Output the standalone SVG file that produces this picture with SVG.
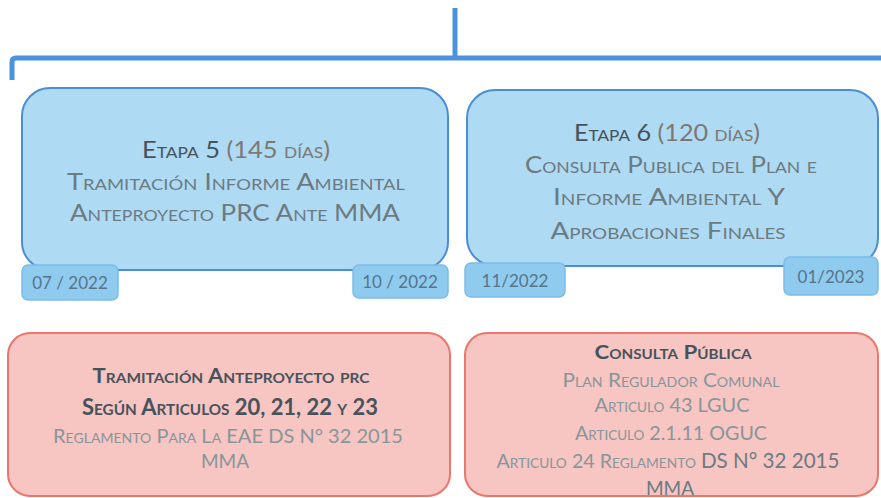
<svg xmlns="http://www.w3.org/2000/svg" width="881" height="498" viewBox="0 0 881 498">
<style>
text{font-family:Lato,"Open Sans","Liberation Sans",sans-serif;font-variant:small-caps;text-anchor:middle}
.blue{fill:#aedaf4;stroke:#4a8fd6;stroke-width:2}
.tab{fill:#8fcbef;stroke:#7cbce8;stroke-width:1.5}
.red{fill:#f7c5c2;stroke:#ea766c;stroke-width:2}
.dk{fill:#47535c}
.md{fill:#6c7a82}
.lt{fill:#88959a}
.br{fill:#7d7872}
.t{font-size:23.5px}
.d{font-size:17px;fill:#587488}
.conn{fill:none;stroke:#4b92de;stroke-width:5;stroke-linejoin:round}
</style>
<g id="connectors">
<path class="conn" d="M12 80 V62 Q12 58 16 58 H881"/>
<path class="conn" d="M455 8 V58"/>
</g>
<g id="etapa5">
<rect class="blue" x="22" y="88" width="426" height="182" rx="28"/>
<text class="t" x="236" y="158" textLength="188" lengthAdjust="spacingAndGlyphs"><tspan class="dk">Etapa 5</tspan> <tspan class="br">(145 días)</tspan></text>
<text class="t md" x="236" y="190" textLength="338" lengthAdjust="spacingAndGlyphs">Tramitación Informe Ambiental</text>
<text class="t md" x="235" y="221" textLength="330" lengthAdjust="spacingAndGlyphs">Anteproyecto  PRC Ante MMA</text>
</g>
<g id="tab-0722">
<rect class="tab" x="22" y="265" width="96" height="35" rx="6"/>
<text class="d" x="70" y="289">07 / 2022</text>
</g>
<g id="tab-1022">
<rect class="tab" x="353" y="265" width="95" height="33" rx="6"/>
<text class="d" x="400" y="288">10 / 2022</text>
</g>
<g id="etapa6">
<rect class="blue" x="467" y="90" width="411" height="176" rx="28"/>
<text class="t" x="667" y="141" textLength="186" lengthAdjust="spacingAndGlyphs"><tspan class="dk">Etapa 6</tspan> <tspan class="br">(120 días)</tspan></text>
<text class="t md" x="671" y="173" textLength="292" lengthAdjust="spacingAndGlyphs">Consulta Publica del Plan e</text>
<text class="t md" x="669" y="205" textLength="232" lengthAdjust="spacingAndGlyphs">Informe Ambiental Y</text>
<text class="t md" x="668" y="239" textLength="235" lengthAdjust="spacingAndGlyphs">Aprobaciones Finales</text>
</g>
<g id="tab-1122">
<rect class="tab" x="465" y="263" width="100" height="34" rx="6"/>
<text class="d" x="515" y="287">11/2022</text>
</g>
<g id="tab-0123">
<rect class="tab" x="784" y="257" width="94" height="38" rx="6"/>
<text class="d" x="831" y="283">01/2023</text>
</g>
<g id="tramitacion">
<rect class="red" x="8" y="333" width="442" height="163" rx="22"/>
<text class="dk" x="231" y="383" font-size="20" font-weight="bold" textLength="277" lengthAdjust="spacingAndGlyphs">Tramitación Anteproyecto prc</text>
<text class="dk" x="230" y="415" font-size="23" font-weight="bold" textLength="296" lengthAdjust="spacingAndGlyphs">Según Articulos 20, 21, 22 y 23</text>
<text class="lt" x="228" y="443" font-size="20" textLength="350" lengthAdjust="spacingAndGlyphs">Reglamento Para La EAE DS N° 32 2015</text>
<text class="lt" x="225" y="468" font-size="19">MMA</text>
</g>
<g id="consulta">
<rect class="red" x="465" y="333" width="413" height="163" rx="22"/>
<text class="dk" x="673" y="359" font-size="19" font-weight="bold" textLength="157" lengthAdjust="spacingAndGlyphs">Consulta Pública</text>
<text class="lt" x="671" y="387" font-size="19" textLength="217" lengthAdjust="spacingAndGlyphs">Plan Regulador Comunal</text>
<text class="lt" x="672" y="412" font-size="19" textLength="155" lengthAdjust="spacingAndGlyphs">Articulo 43 LGUC</text>
<text class="lt" x="671" y="440" font-size="19" textLength="192" lengthAdjust="spacingAndGlyphs">Articulo 2.1.11 OGUC</text>
<text x="668" y="468" font-size="20" textLength="343" lengthAdjust="spacingAndGlyphs"><tspan class="lt">Articulo 24 Reglamento</tspan> <tspan class="md" font-size="21">DS N° 32 2015</tspan></text>
<text class="md" x="670" y="495" font-size="19">MMA</text>
</g>
</svg>
